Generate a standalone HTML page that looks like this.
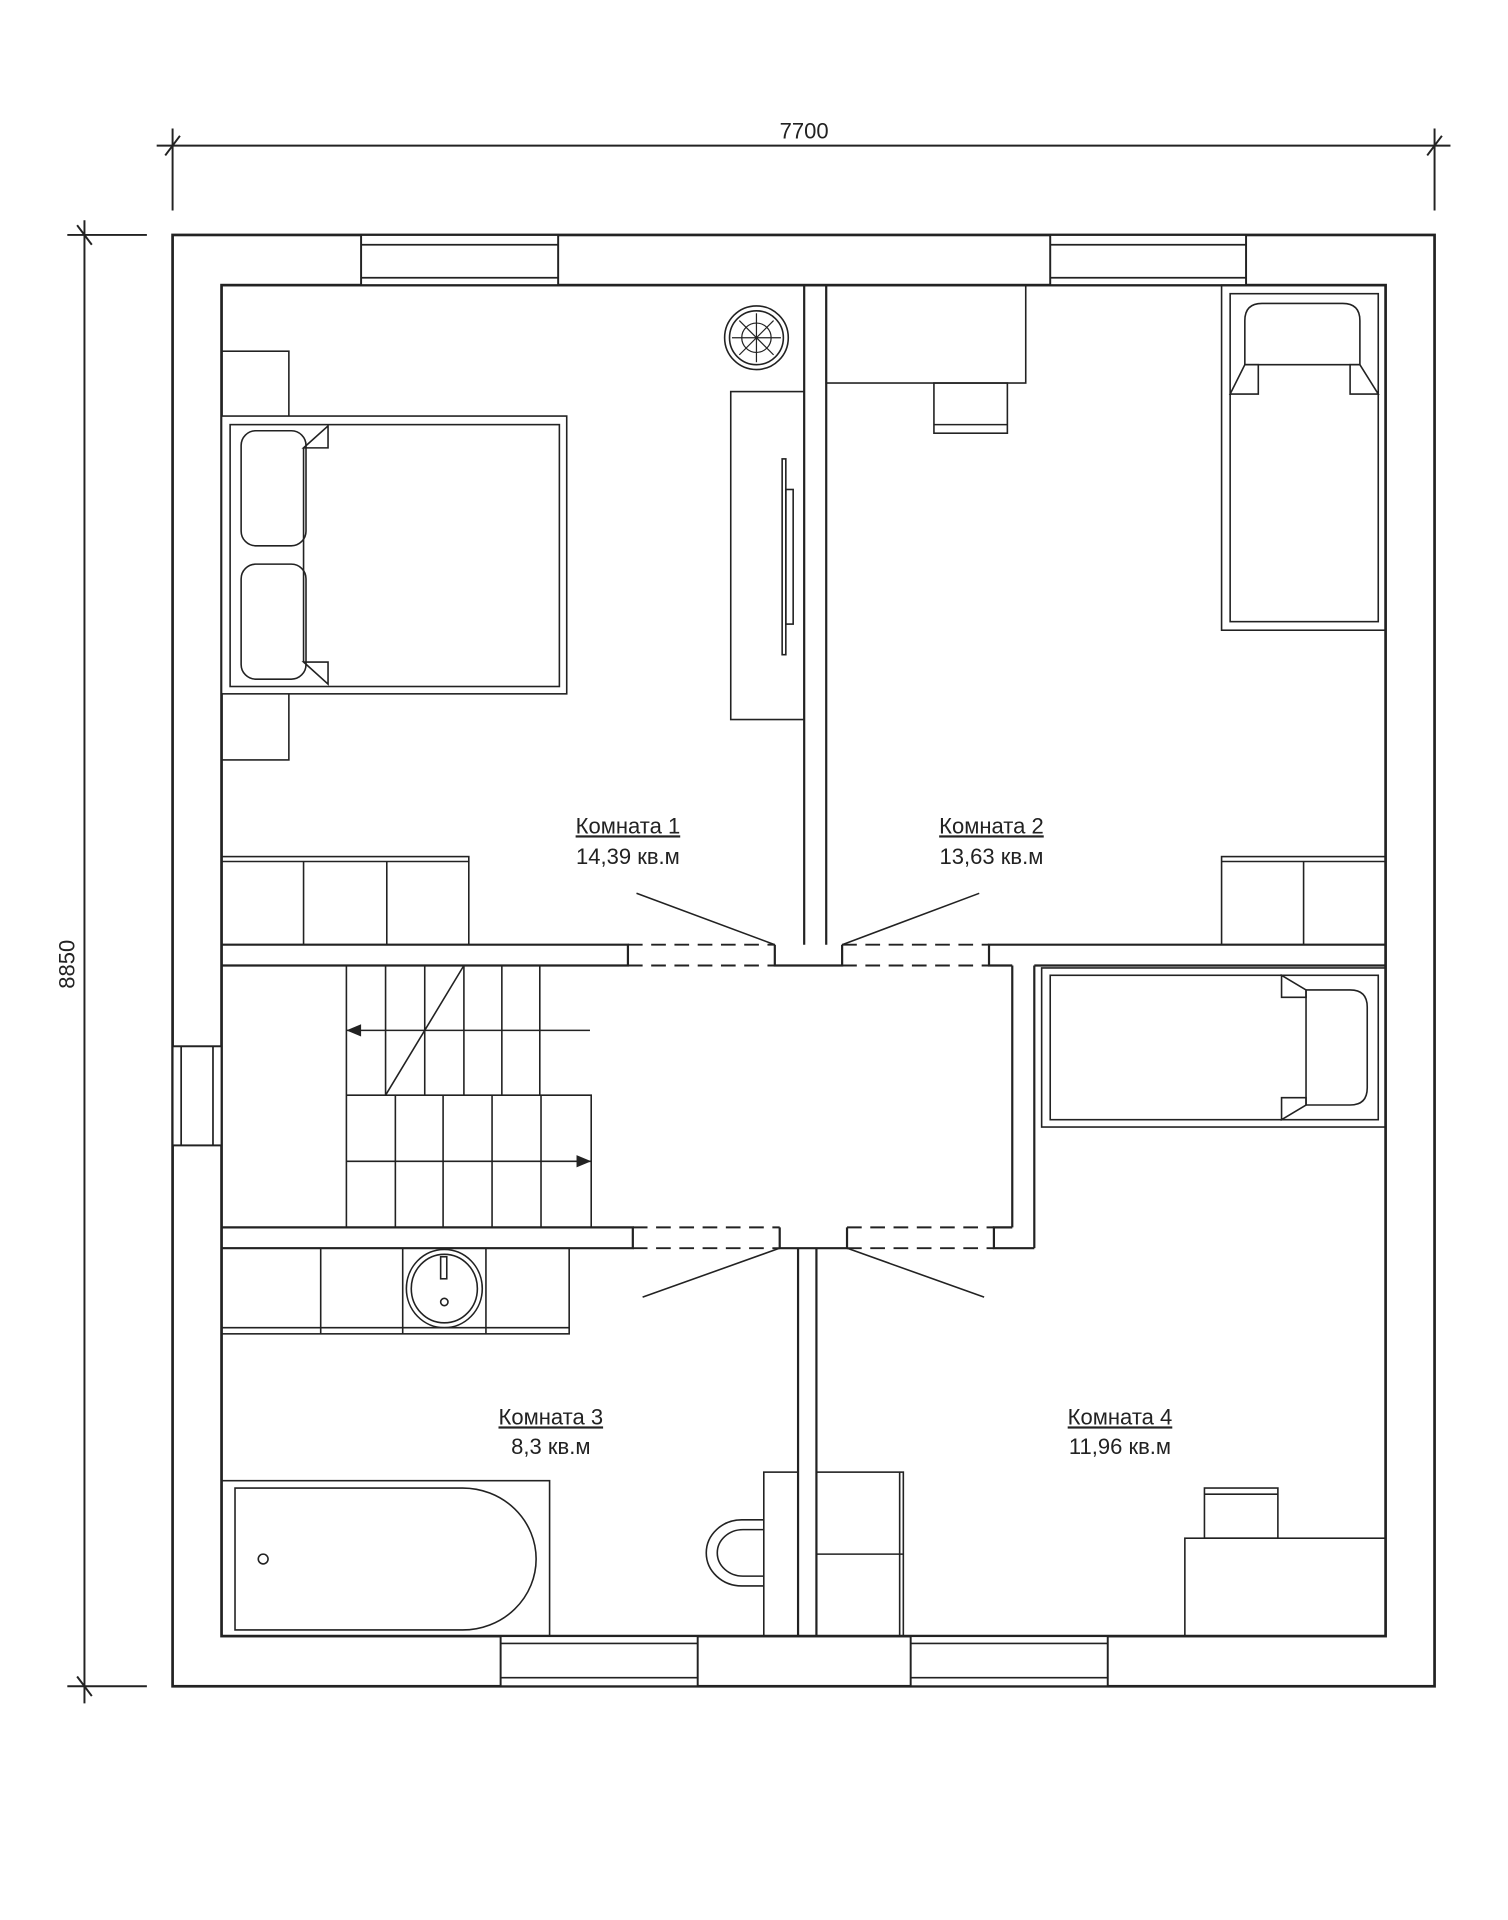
<!DOCTYPE html>
<html><head><meta charset="utf-8"><style>
html,body{margin:0;padding:0;background:#fff;}
svg{display:block;}
text{font-family:"Liberation Sans",sans-serif;font-size:18px;fill:#222;}
</style></head><body>
<svg width="1508" height="1920" viewBox="0 0 1232 1569" preserveAspectRatio="none" xmlns="http://www.w3.org/2000/svg">
<g fill="none" stroke="#222" stroke-width="1.6">
<!-- dimensions -->
<line x1="128" y1="119" x2="1185" y2="119"/>
<line x1="141" y1="105" x2="141" y2="172"/><line x1="1172" y1="105" x2="1172" y2="172"/>
<line x1="135" y1="127" x2="147" y2="111"/><line x1="1166" y1="127" x2="1178" y2="111"/>
<line x1="69" y1="180" x2="69" y2="1392"/>
<line x1="55" y1="192" x2="120" y2="192"/><line x1="55" y1="1378" x2="120" y2="1378"/>
<line x1="63" y1="184" x2="75" y2="200"/><line x1="63" y1="1370" x2="75" y2="1386"/>
<!-- outer/inner walls -->
<rect x="141" y="192" width="1031" height="1186" stroke-width="2.2"/>
<rect x="181" y="233" width="951" height="1104" stroke-width="2.2"/>
</g>
<!-- windows (white out wall and draw) -->
<g fill="#fff" stroke="#222" stroke-width="1.6">
<rect x="295" y="192" width="161" height="41"/>
<rect x="858" y="192" width="160" height="41"/>
<rect x="409" y="1337" width="161" height="41"/>
<rect x="744" y="1337" width="161" height="41"/>
<rect x="141" y="855" width="40" height="81"/>
</g>
<g stroke="#222" stroke-width="1.4">
<line x1="295" y1="200" x2="456" y2="200"/><line x1="295" y1="227" x2="456" y2="227"/>
<line x1="858" y1="200" x2="1018" y2="200"/><line x1="858" y1="227" x2="1018" y2="227"/>
<line x1="409" y1="1343" x2="570" y2="1343"/><line x1="409" y1="1371" x2="570" y2="1371"/>
<line x1="744" y1="1343" x2="905" y2="1343"/><line x1="744" y1="1371" x2="905" y2="1371"/>
<line x1="148" y1="855" x2="148" y2="936"/><line x1="174" y1="855" x2="174" y2="936"/>
</g>
<g fill="none" stroke="#222" stroke-width="1.8">
<!-- interior walls -->
<polyline points="657,233 657,772"/><polyline points="675,233 675,772"/>
<polyline points="181,772 513,772 513,789 181,789"/>
<polyline points="633,772 633,789 688,789 688,772"/>
<polyline points="1132,772 808,772 808,789 827,789"/>
<line x1="845" y1="789" x2="1132" y2="789"/>
<line x1="827" y1="789" x2="827" y2="1003"/><line x1="845" y1="789" x2="845" y2="1020"/>
<polyline points="181,1003 517,1003 517,1020 181,1020"/>
<polyline points="637,1003 637,1020 692,1020 692,1003"/>
<polyline points="827,1003 812,1003 812,1020 845,1020"/>
<line x1="652" y1="1020" x2="652" y2="1337"/><line x1="667" y1="1020" x2="667" y2="1337"/>
</g>
<g stroke="#222" stroke-width="1.6" stroke-dasharray="12,7">
<line x1="513" y1="772" x2="633" y2="772"/><line x1="513" y1="789" x2="633" y2="789"/>
<line x1="688" y1="772" x2="808" y2="772"/><line x1="688" y1="789" x2="808" y2="789"/>
<line x1="517" y1="1003" x2="637" y2="1003"/><line x1="517" y1="1020" x2="637" y2="1020"/>
<line x1="692" y1="1003" x2="812" y2="1003"/><line x1="692" y1="1020" x2="812" y2="1020"/>
</g>
<g fill="none" stroke="#222" stroke-width="1.3">
<!-- door swings -->
<line x1="520" y1="730" x2="633" y2="772"/><line x1="688" y1="772" x2="800" y2="730"/>
<line x1="525" y1="1060" x2="637" y2="1020"/><line x1="692" y1="1020" x2="804" y2="1060"/>
<!-- room 1 -->
<rect x="181" y="287" width="55" height="58"/><rect x="181" y="565" width="55" height="56"/>
<rect x="181" y="340" width="282" height="227" fill="#fff"/>
<rect x="188" y="347" width="269" height="214"/>
<rect x="197" y="352" width="53" height="94" rx="12"/>
<rect x="197" y="461" width="53" height="94" rx="12"/>
<line x1="248" y1="366" x2="248" y2="541"/>
<polygon points="248,366 268,348 268,366"/><polygon points="248,541 268,559 268,541"/>
<rect x="597" y="320" width="60" height="268"/>
<rect x="639" y="375" width="3" height="160"/><rect x="642" y="400" width="6" height="110"/>
<circle cx="618" cy="276" r="26"/><circle cx="618" cy="276" r="22"/>
<g stroke-width="1"><line x1="618" y1="256" x2="618" y2="296"/><line x1="598" y1="276" x2="638" y2="276"/><line x1="604" y1="262" x2="632" y2="290"/><line x1="632" y1="262" x2="604" y2="290"/><circle cx="618" cy="276" r="12"/></g>
<rect x="181" y="700" width="202" height="72"/><line x1="181" y1="704" x2="383" y2="704"/>
<line x1="248" y1="704" x2="248" y2="772"/><line x1="316" y1="704" x2="316" y2="772"/>
<!-- room 2 -->
<rect x="675" y="233" width="163" height="80"/>
<rect x="763" y="313" width="60" height="41"/><line x1="763" y1="347" x2="823" y2="347"/>
<rect x="998" y="233" width="134" height="282"/><rect x="1005" y="240" width="121" height="268"/>
<path d="M1017,298 V262 Q1017,248 1031,248 H1097 Q1111,248 1111,262 V298"/>
<line x1="1017" y1="298" x2="1111" y2="298"/>
<polygon points="1005,322 1017,298 1028,298 1028,322"/><polygon points="1126,322 1111,298 1103,298 1103,322"/>
<rect x="998" y="700" width="134" height="72"/><line x1="998" y1="704" x2="1132" y2="704"/><line x1="1065" y1="704" x2="1065" y2="772"/>
<!-- stairs -->
<line x1="283" y1="789" x2="283" y2="1003"/>
<line x1="315" y1="789" x2="315" y2="895"/><line x1="347" y1="789" x2="347" y2="895"/>
<line x1="379" y1="789" x2="379" y2="895"/><line x1="410" y1="789" x2="410" y2="895"/><line x1="441" y1="789" x2="441" y2="895"/>
<line x1="315" y1="895" x2="379" y2="789"/>
<line x1="283" y1="842" x2="482" y2="842"/>
<polyline points="283,895 483,895 483,1003"/>
<line x1="323" y1="895" x2="323" y2="1003"/><line x1="362" y1="895" x2="362" y2="1003"/>
<line x1="402" y1="895" x2="402" y2="1003"/><line x1="442" y1="895" x2="442" y2="1003"/>
<line x1="283" y1="949" x2="483" y2="949"/>
<!-- room 4 bed -->
<rect x="851" y="791" width="281" height="130"/><rect x="858" y="797" width="268" height="118"/>
<path d="M1067,809 H1103 Q1117,809 1117,823 V889 Q1117,903 1103,903 H1067"/>
<line x1="1067" y1="809" x2="1067" y2="903"/>
<polygon points="1047,797 1067,809 1067,815 1047,815"/><polygon points="1047,915 1067,903 1067,897 1047,897"/>
<!-- room 3 -->
<rect x="181" y="1020" width="284" height="70"/><line x1="181" y1="1085" x2="465" y2="1085"/>
<line x1="262" y1="1020" x2="262" y2="1090"/><line x1="329" y1="1020" x2="329" y2="1090"/><line x1="397" y1="1020" x2="397" y2="1090"/>
<ellipse cx="363" cy="1053" rx="31" ry="32"/><ellipse cx="363" cy="1053" rx="27" ry="28"/>
<rect x="360" y="1027" width="5" height="18"/><circle cx="363" cy="1064" r="3"/>
<rect x="181" y="1210" width="268" height="127"/>
<path d="M192,1216 H378 A60,58 0 0 1 378,1332 H192 Z"/>
<circle cx="215" cy="1274" r="4"/>
<rect x="624" y="1203" width="28" height="134"/>
<path d="M624,1242 H606 A29,27 0 0 0 606,1296 H624"/>
<path d="M624,1250 H607 A21,19 0 0 0 607,1288 H624"/>
<!-- room 4 -->
<rect x="667" y="1203" width="71" height="134"/><line x1="667" y1="1270" x2="738" y2="1270"/><line x1="735" y1="1203" x2="735" y2="1337"/>
<rect x="968" y="1257" width="164" height="80"/>
<rect x="984" y="1216" width="60" height="41"/><line x1="984" y1="1221" x2="1044" y2="1221"/>
</g>
<g fill="#222">
<polygon points="283,842 295,837 295,847"/>
<polygon points="483,949 471,944 471,954"/>
</g>
<!-- labels -->
<text x="657" y="113" text-anchor="middle">7700</text>
<text x="0" y="0" text-anchor="middle" transform="translate(61,788) rotate(-90)">8850</text>
<text x="513" y="681" text-anchor="middle" text-decoration="underline">Комната 1</text>
<text x="513" y="706" text-anchor="middle">14,39 кв.м</text>
<text x="810" y="681" text-anchor="middle" text-decoration="underline">Комната 2</text>
<text x="810" y="706" text-anchor="middle">13,63 кв.м</text>
<text x="450" y="1164" text-anchor="middle" text-decoration="underline">Комната 3</text>
<text x="450" y="1188" text-anchor="middle">8,3 кв.м</text>
<text x="915" y="1164" text-anchor="middle" text-decoration="underline">Комната 4</text>
<text x="915" y="1188" text-anchor="middle">11,96 кв.м</text>
</svg>
</body></html>
